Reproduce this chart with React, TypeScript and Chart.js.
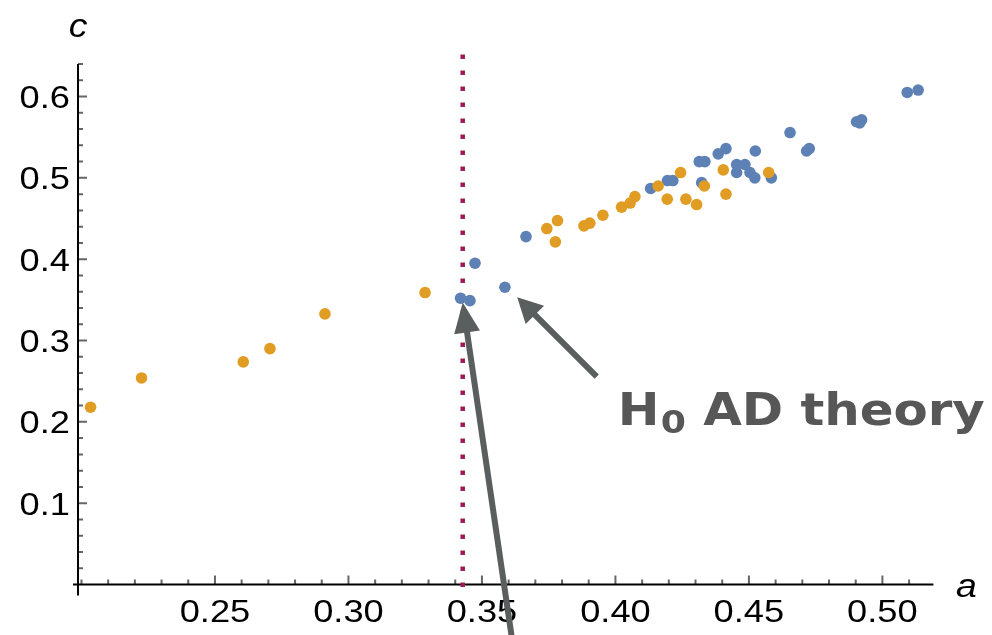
import React, { useEffect, useRef } from 'react';
import { Chart, registerables } from 'chart.js';
Chart.register(...registerables);

// ---- data (a, c) ----
const orangeA = [0.2034, 0.2225, 0.2606, 0.2706, 0.2912, 0.3287, 0.3743, 0.3775, 0.3783, 0.3882, 0.3904, 0.3953, 0.4023, 0.4055, 0.4073, 0.4160, 0.4194, 0.4244, 0.4264, 0.4304, 0.4333, 0.4404, 0.4414, 0.4574];
const orangeC = [0.218, 0.254, 0.2737, 0.290, 0.3327, 0.359, 0.4377, 0.4213, 0.4475, 0.441, 0.4443, 0.454, 0.464, 0.469, 0.477, 0.490, 0.4738, 0.5065, 0.4738, 0.4672, 0.490, 0.5098, 0.480, 0.5066];
const blueA = [0.3420, 0.3455, 0.3474, 0.3586, 0.3665, 0.4132, 0.4195, 0.4215, 0.4314, 0.4335, 0.4323, 0.4385, 0.4414, 0.4454, 0.4454, 0.4485, 0.4504, 0.4522, 0.4524, 0.4584, 0.4654, 0.4716, 0.4726, 0.4903, 0.4915, 0.4922, 0.5093, 0.5134];
const blueC = [0.352, 0.349, 0.395, 0.3655, 0.4278, 0.487, 0.4967, 0.4967, 0.520, 0.520, 0.4942, 0.5295, 0.536, 0.5164, 0.5066, 0.5164, 0.5066, 0.500, 0.533, 0.500, 0.5557, 0.533, 0.536, 0.569, 0.5675, 0.5713, 0.605, 0.608];

const thresholdA = 0.3428;
const thresholdC = [-0.003, 0.652];

const xTicks = [0.25, 0.30, 0.35, 0.40, 0.45, 0.50];
const xTickLabels = ['0.25', '0.30', '0.35', '0.40', '0.45', '0.50'];
const yTicks = [0.1, 0.2, 0.3, 0.4, 0.5, 0.6];
const yTickLabels = ['0.1', '0.2', '0.3', '0.4', '0.5', '0.6'];
const xMinorStep = 0.01;
const yMinorStep = 0.02;

const X_MIN = 0.1987;
const X_MAX = 0.5191;
const Y_MIN = 0;
const Y_MAX = 0.64;

// annotations (data coords)
const arrow1 = { from: [0.3930, 0.2556], to: [0.3632, 0.3533] };
const arrow2 = { from: [0.3616, -0.0744], to: [0.3428, 0.3466] };
const labelPos = [0.4009, 0.1962];

const ORANGE = '#E19C24';
const BLUE = '#5E81B5';
const MAGENTA = '#9B1D55';
const GRAY = '#5A5E5E';

function drawScaledText(ctx: CanvasRenderingContext2D, text: string, x: number, y: number, font: string, align: CanvasTextAlign, sx: number, color: string) {
  ctx.save();
  ctx.translate(x, y);
  ctx.scale(sx, 1);
  ctx.font = font;
  ctx.fillStyle = color;
  ctx.textAlign = align;
  ctx.textBaseline = 'alphabetic';
  ctx.fillText(text, 0, 0);
  ctx.restore();
}

function drawArrow(ctx: CanvasRenderingContext2D, x1: number, y1: number, x2: number, y2: number, headLen: number, headHalf: number) {
  const dx = x2 - x1, dy = y2 - y1;
  const len = Math.hypot(dx, dy);
  const ux = dx / len, uy = dy / len;
  const bx = x2 - ux * headLen, by = y2 - uy * headLen;
  ctx.save();
  ctx.strokeStyle = GRAY;
  ctx.fillStyle = GRAY;
  ctx.lineWidth = 6;
  ctx.lineCap = 'butt';
  ctx.beginPath();
  ctx.moveTo(x1, y1);
  ctx.lineTo(bx + ux * 2, by + uy * 2);
  ctx.stroke();
  ctx.beginPath();
  ctx.moveTo(x2, y2);
  ctx.lineTo(bx - uy * headHalf, by + ux * headHalf);
  ctx.lineTo(bx + uy * headHalf, by - ux * headHalf);
  ctx.closePath();
  ctx.fill();
  ctx.restore();
}

const TICK_FONT = '31px "Liberation Sans", Arial, sans-serif';
const TICK_SX = 1.17;

const axesPlugin = {
  id: 'mmaAxes',
  beforeDatasetsDraw(chart: any) {
    const ctx: CanvasRenderingContext2D = chart.ctx;
    const xs = chart.scales.x;
    const ys = chart.scales.y;
    const ax = xs.getPixelForValue(X_MIN);
    const ay = ys.getPixelForValue(Y_MIN);
    const right = xs.getPixelForValue(X_MAX);
    const top = ys.getPixelForValue(Y_MAX);
    ctx.save();
    // ticks
    ctx.strokeStyle = '#666';
    ctx.lineWidth = 2;
    ctx.beginPath();
    for (let i = 20; i <= 51; i++) {
      const v = i * xMinorStep;
      const px = xs.getPixelForValue(v);
      const major = i % 5 === 0 && i > 20;
      ctx.moveTo(px, ay);
      ctx.lineTo(px, ay - (major ? 9 : 5));
    }
    for (let i = 1; i <= 32; i++) {
      const v = i * yMinorStep;
      const py = ys.getPixelForValue(v);
      const major = i % 5 === 0;
      ctx.moveTo(ax, py);
      ctx.lineTo(ax + (major ? 9 : 5), py);
    }
    ctx.stroke();
    // axis lines
    ctx.strokeStyle = '#000';
    ctx.lineWidth = 2;
    ctx.beginPath();
    ctx.moveTo(ax - 5, ay);
    ctx.lineTo(right, ay);
    ctx.moveTo(ax, ay + 11);
    ctx.lineTo(ax, top);
    ctx.stroke();
    ctx.restore();
    // tick labels
    xTicks.forEach((v, i) => {
      drawScaledText(ctx, xTickLabels[i], xs.getPixelForValue(v), ay + 37, TICK_FONT, 'center', TICK_SX, '#000');
    });
    yTicks.forEach((v, i) => {
      drawScaledText(ctx, yTickLabels[i], ax - 8, ys.getPixelForValue(v) + 11.5, TICK_FONT, 'right', TICK_SX, '#000');
    });
    // axis labels
    drawScaledText(ctx, 'c', ax, top - 27, 'italic 34px "Liberation Sans", Arial, sans-serif', 'center', 1.1, '#000');
    drawScaledText(ctx, 'a', right + 33, ay + 12, 'italic 34px "Liberation Sans", Arial, sans-serif', 'center', 1.1, '#000');
  },
  afterDraw(chart: any) {
    const ctx: CanvasRenderingContext2D = chart.ctx;
    const xs = chart.scales.x;
    const ys = chart.scales.y;
    const P = (p: number[]) => [xs.getPixelForValue(p[0]), ys.getPixelForValue(p[1])];
    const [a1x, a1y] = P(arrow1.from);
    const [b1x, b1y] = P(arrow1.to);
    drawArrow(ctx, a1x, a1y, b1x, b1y, 25, 13);
    const [a2x, a2y] = P(arrow2.from);
    const [b2x, b2y] = P(arrow2.to);
    drawArrow(ctx, a2x, a2y, b2x, b2y, 30, 13);
    // label
    const [lx, ly] = P(labelPos);
    const mainFont = 'bold 44px "DejaVu Sans", sans-serif';
    const subFont = 'bold 32px "DejaVu Sans", sans-serif';
    ctx.save();
    ctx.font = mainFont;
    const wH = ctx.measureText('H').width;
    const wR = ctx.measureText(' AD theory').width;
    ctx.font = subFont;
    const w0 = ctx.measureText('0').width;
    const gap = 1;
    const total = wH + gap + w0 + wR;
    const sx = 367 / total;
    ctx.translate(lx, ly);
    ctx.scale(sx, 1);
    ctx.fillStyle = '#575757';
    ctx.textBaseline = 'alphabetic';
    ctx.textAlign = 'left';
    ctx.font = mainFont;
    ctx.fillText('H', 0, 0);
    ctx.font = subFont;
    ctx.fillText('0', wH + gap, 8);
    ctx.font = mainFont;
    ctx.fillText(' AD theory', wH + gap + w0, 0);
    ctx.restore();
  },
};

export default function App() {
  const ref = useRef<HTMLCanvasElement | null>(null);
  useEffect(() => {
    if (!ref.current) return;
    const orange = orangeA.map((a, i) => ({ x: a, y: orangeC[i] }));
    const blue = blueA.map((a, i) => ({ x: a, y: blueC[i] }));
    const line = thresholdC.map((c) => ({ x: thresholdA, y: c }));
    const chart = new Chart(ref.current, {
      type: 'scatter',
      data: {
        datasets: [
          { label: 'orange', data: orange, backgroundColor: ORANGE, borderWidth: 0, pointRadius: 5.8, pointHoverRadius: 5.8 },
          { label: 'blue', data: blue, backgroundColor: BLUE, borderWidth: 0, pointRadius: 5.8, pointHoverRadius: 5.8 },
          {
            type: 'line', label: 'threshold', data: line, borderColor: MAGENTA, borderWidth: 4.5,
            borderDash: [4.5, 11.5], borderCapStyle: 'butt', pointRadius: 0, showLine: true, clip: false as any, fill: false,
          } as any,
        ],
      },
      options: {
        responsive: false,
        animation: false,
        events: [],
        layout: { padding: { left: 78, right: 58.6, top: 64, bottom: 50.5 } },
        plugins: { legend: { display: false }, tooltip: { enabled: false } },
        scales: {
          x: { type: 'linear', min: X_MIN, max: X_MAX, display: false },
          y: { type: 'linear', min: Y_MIN, max: Y_MAX, display: false },
        },
      },
      plugins: [axesPlugin],
    });
    return () => chart.destroy();
  }, []);
  return (
    <div style={{ position: 'fixed', left: 0, top: 0, width: 992, height: 635, background: '#fff' }}>
      <canvas ref={ref} width={992} height={635} style={{ display: 'block', width: 992, height: 635 }} />
    </div>
  );
}
